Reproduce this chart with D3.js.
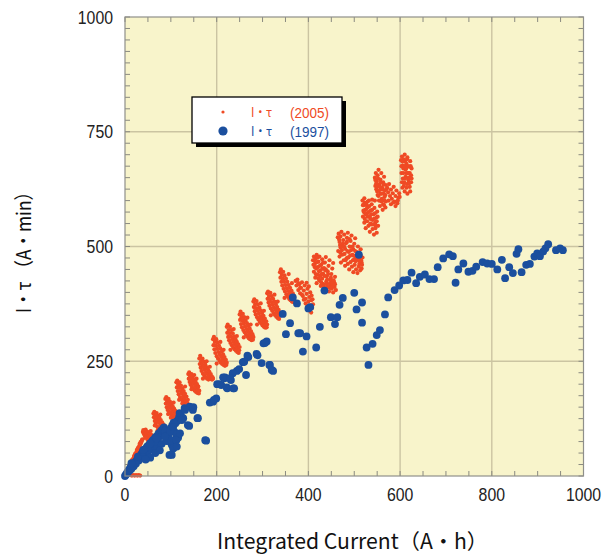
<!DOCTYPE html>
<html>
<head>
<meta charset="utf-8">
<script src="https://cdn.jsdelivr.net/npm/d3@7"></script>
<style>
  body { margin: 0; background: #fff; }
  svg { display: block; }
</style>
</head>
<body>
<div id="chart"></div>
<script>
// TICKS
const xTicks = [0, 200, 400, 600, 800, 1000];
const yTicks = [0, 250, 500, 750, 1000];

// SERIES LABELS
const seriesNames = ["I・τ", "I・τ"];
const seriesYears = ["(2005)", "(1997)"];

// I·tau (2005), one string per sawtooth cycle ("x,y" pairs)
const red2005 = [
  "0,0 1,2 2,4 3,5 4,8 5,9 6,12 7,13 8,16 9,18 10,20 11,22 12,24 13,26 14,28 15,30 16,33 17,34 18,37 19,39 20,41 21,43 22,45 23,47 24,49 25,52 26,54 27,56 28,58 29,60 30,62 31,64 32,67 33,69 34,71 35,73 36,75 37,78 38,80 12,2 15,1 18,2 21,1 24,2 27,1 30,2 33,1 14,31 20,44 26,57 32,70 10,23 16,36 22,48 28,61 34,74",
  "39,96 40,100 41,92 42,97 43,88 44,94 45,101 46,86 47,91 48,97 49,84 50,89 51,95 52,81 53,87 54,92 55,79 56,84 57,90 58,76 59,82 60,87 61,74 62,79 44,83 50,78 56,98",
  "62,136 63,128 64,140 65,120 66,132 67,114 68,126 69,137 70,108 71,121 72,131 73,104 74,116 75,127 76,100 77,111 78,122 79,97 80,107 81,117 82,94 83,103 84,112 85,92 86,99 87,107 88,95 65,110 71,99 77,134",
  "88,168 89,158 90,172 91,150 92,163 93,144 94,157 95,168 96,140 97,151 98,162 99,136 100,147 101,157 102,132 103,142 104,152 105,129 106,138 107,147 108,126 109,134 110,142 111,123 112,130 94,135 100,127 106,160",
  "112,204 113,193 114,208 115,185 116,199 117,178 118,192 119,204 120,172 121,185 122,197 123,167 124,180 125,191 126,162 127,174 128,185 129,158 130,168 131,179 132,155 133,163 134,173 135,152 136,159 137,166 138,152 118,166 125,158 131,195",
  "138,222 139,212 140,226 141,205 142,217 143,199 144,212 145,222 146,194 147,206 148,216 149,190 150,201 151,210 152,186 153,196 154,205 155,183 156,191 157,200 158,181 159,188 160,195 161,180 162,186 145,189 151,220 156,212",
  "162,256 163,244 164,262 165,236 166,250 167,229 168,243 169,256 170,223 171,237 172,249 173,219 174,231 175,243 176,215 177,226 178,237 179,212 180,222 181,232 182,210 183,218 184,227 186,214 187,222 188,211 189,217 190,210 191,215 192,212 170,212 178,250 185,238",
  "192,298 193,285 194,303 195,276 196,292 197,268 198,284 199,298 200,261 201,277 202,291 203,256 204,270 205,284 206,251 207,264 208,278 209,247 210,259 211,271 212,244 213,254 214,265 215,242 216,250 217,259 218,240 219,246 220,253 221,242 222,247 200,245 208,292 215,275",
  "222,325 223,312 224,330 225,303 226,318 227,296 228,311 229,325 230,290 231,304 232,318 233,285 234,298 235,311 236,280 237,292 238,304 239,276 240,287 241,298 242,273 243,282 244,292 245,270 246,278 247,287 248,268 249,274 250,281 230,275 237,320 244,305",
  "250,352 251,340 252,358 253,331 254,346 255,324 256,339 257,353 258,318 259,332 260,346 261,313 262,326 263,339 264,308 265,320 266,333 267,304 268,315 269,327 270,300 271,310 272,321 273,298 274,306 275,315 276,296 277,302 278,309 279,297 280,303 259,302 267,345 274,330",
  "280,380 281,368 282,385 283,359 284,374 285,352 286,366 287,381 288,346 289,360 290,374 291,341 292,354 293,367 294,336 295,348 296,361 297,332 298,343 299,355 300,328 301,338 302,349 303,325 304,334 305,343 306,323 307,330 308,337 309,324 310,330 288,330 296,376 303,360",
  "310,398 311,386 312,402 313,378 314,392 315,371 316,385 317,399 318,365 319,379 320,392 321,360 322,373 323,386 324,355 325,367 326,380 327,351 328,362 329,374 330,347 331,357 332,368 333,344 334,353 335,362 336,342 337,349 338,356 318,350 326,395 333,380",
  "338,444 339,432 340,450 341,423 342,438 343,415 344,430 345,445 346,408 347,423 348,437 349,402 350,416 351,430 352,396 353,409 354,423 355,391 356,403 357,416 358,386 359,398 360,410 361,383 362,393 363,404 364,380 365,388 366,398 367,379 368,386 369,392 370,381 348,388 357,440 364,420",
  "372,425 374,415 376,428 378,405 380,418 382,398 384,410 386,422 388,392 390,404 392,415 394,386 396,397 398,408 400,380 402,390 404,400 405,372 406,383 407,393 408,366 403,360 398,370 394,376 390,384 386,395 382,410 378,420 401,413 396,421 406,356 410,374 409,385",
  "410,470 412,478 414,462 416,474 418,482 420,455 422,467 424,478 426,448 428,460 430,472 432,441 434,453 436,465 438,477 440,435 442,446 444,458 446,470 448,428 450,440 452,452 454,464 456,422 458,434 412,445 415,432 418,420 421,438 424,426 427,414 430,430 433,418 436,406 439,424 442,412 445,402 448,416 451,408 454,400 457,412 460,405 414,455 426,436 438,450 450,426",
  "411,460 413,470 417,452 419,466 423,446 425,458 429,440 431,452 435,436 437,448 441,428 443,440 447,420 449,432 453,414 455,426 416,440 422,430 428,422 434,412 440,418 446,410 452,420 458,418 420,476 432,465",
  "464,520 466,528 468,510 470,522 472,532 474,500 476,514 478,526 480,495 482,507 484,519 486,530 488,488 490,500 492,512 494,524 496,482 498,494 500,506 502,518 504,476 506,488 508,500 510,470 512,482 514,494 516,465 518,476 465,490 468,478 471,465 474,482 477,470 480,458 483,474 486,462 489,450 492,466 495,456 498,444 501,460 504,450 507,442 510,456 513,448 516,452 470,498 486,476 500,472 511,462",
  "467,515 469,503 473,492 475,506 479,484 481,470 485,490 487,476 491,480 493,492 497,470 499,480 503,468 505,478 509,486 511,474 515,470 517,460 470,486 478,500 484,510 490,516 496,500 502,490 508,472 514,480",
  "518,600 520,590 522,605 524,580 526,595 528,572 530,586 532,600 534,565 536,578 538,592 540,558 542,570 544,584 546,552 548,563 550,576 519,565 522,552 525,540 528,555 531,545 534,532 537,548 540,538 543,526 546,540 549,530 552,545 520,578 527,590 535,550 545,600",
  "519,590 521,575 523,560 525,570 527,582 529,565 531,575 533,588 535,560 537,570 539,580 541,548 543,560 545,572 547,545 549,555 551,565 523,595 529,598 539,602",
  "545,650 547,660 549,642 551,655 553,667 555,634 557,646 559,660 561,628 563,640 565,652 567,622 569,634 548,625 551,612 554,600 557,615 560,604 563,592 566,608 569,598 552,635 558,625 564,616 546,632 550,620 556,588 562,580 568,585",
  "546,645 548,638 550,630 552,648 554,622 556,630 558,640 560,615 562,625 564,635 566,600 568,612 570,625 553,610 559,598 565,590",
  "572,628 574,618 576,636 578,610 580,624 582,604 584,616 586,630 588,598 590,610 592,622 594,594 596,606 598,616 575,600 580,592 585,596 590,588 595,600 599,608",
  "602,688 604,696 606,676 608,690 610,700 612,668 614,680 616,694 618,660 620,674 622,686 624,655 603,660 606,648 609,640 612,652 615,636 618,645 621,630 624,640 605,628 610,620 616,615 622,620 607,670 613,660 619,650 625,670 617,675 611,685",
  "603,675 605,685 607,660 609,675 611,648 613,670 615,690 617,660 619,640 621,660 623,675 625,648 604,640 608,632 614,628 620,638"
];

// I·tau (1997): large markers
const blueStart = "0,0 2,3 4,5 5,8 7,9 8,13 10,12 11,17 13,19 14,16 16,22 18,25 19,21 21,28 23,31 24,27 26,35 28,37 30,34 31,41 33,44 35,40 36,48 38,50 40,47 41,55 43,58 45,54 47,62 49,65 51,60 53,68 55,71 57,66 59,75 61,78 63,72 65,82 67,85 69,79 71,88 73,92 75,86 77,95 79,99 81,93 83,103 85,106 88,100 90,92 93,86 96,80 99,74 102,68 106,62 95,98 100,104 103,110 108,96 112,90 116,84 110,115 114,120 118,128 122,132 106,116 60,58 70,64 80,70 90,76 66,50 76,56 50,46 55,40 45,36";
const blueLow = "14,28 28,42 39,53 50,63 65,75 72,84 87,97 94,89 101,78 105,60 112,78 97,46 119,137 130,148 141,151 148,144 137,111 127,126 159,126 175,78 192,162 199,169 210,198 217,213 98,97 87,86 113,64 102,46 120,93 105,107 177,77 124,122 140,109 131,144 149,150 158,126 185,160 194,166 69,82 55,71 40,57";
const blueMid = "201,200 218,215 231,209 223,191 238,191 244,229 257,248 267,262 287,266 302,289 309,293 298,246 315,242 323,229 344,353 360,333 351,309 378,311 388,271 375,376 400,365 366,389 289,263 269,259 316,242 320,231 260,249 249,233 264,220 235,224 229,213 214,215 206,200 222,193 236,191 305,290";
const blueHigh = "435,404 404,368 382,311 396,304 417,280 425,325 449,346 463,346 458,331 468,373 475,388 500,399 517,378 505,363 517,334 510,482 527,280 531,242 540,288 549,307 556,318 567,352 574,389 588,405 598,415 607,426 616,427 625,443 635,420 643,434 654,439 664,429 674,429 682,455 694,474 707,483 715,479 721,421 727,450 738,463 749,445 758,447 766,456 780,466 790,463 800,462 812,450 822,471 829,431 838,455 846,442 854,484 858,494 865,444 875,460 883,462 893,478 899,485 905,479 912,489 917,496 923,505 940,492 949,496 955,492";

const parsePairs = s => s.trim().split(/\s+/).map(p => p.split(",").map(Number));
const redData = red2005.flatMap(parsePairs);
const blueData = [blueStart, blueLow, blueMid, blueHigh].flatMap(parsePairs);

// SIZES
const svgWidth = 611;
const svgHeight = 555;
const plot = { left: 125, right: 583.5, top: 17, bottom: 476 };

const RED = "#ef4a24";
const BLUE = "#1b4f9e";

const xScale = d3.scaleLinear().domain([0, 1000]).range([plot.left, plot.right]);
const yScale = d3.scaleLinear().domain([0, 1000]).range([plot.bottom, plot.top]);

const svg = d3.select("#chart")
  .append("svg")
  .attr("width", svgWidth)
  .attr("height", svgHeight);

// PLOT BACKGROUND
svg.append("rect")
  .attr("x", plot.left)
  .attr("y", plot.top)
  .attr("width", plot.right - plot.left)
  .attr("height", plot.bottom - plot.top)
  .attr("fill", "#f8f4cb");

// GRID LINES
const grid = svg.append("g").attr("stroke", "#cbc4a2").attr("stroke-width", 1.4);
grid.selectAll(".gx")
  .data(xTicks.slice(1, -1))
  .enter()
  .append("line")
  .attr("x1", d => xScale(d)).attr("x2", d => xScale(d))
  .attr("y1", plot.top).attr("y2", plot.bottom);
grid.selectAll(".gy")
  .data(yTicks.slice(1, -1))
  .enter()
  .append("line")
  .attr("y1", d => yScale(d)).attr("y2", d => yScale(d))
  .attr("x1", plot.left).attr("x2", plot.right);

// INNER TICKS ON ALL SIDES
const minorX = d3.range(0, 1001, 50);
const minorY = d3.range(0, 1001, 25);
const tickLen = 5;
const ticks = svg.append("g").attr("stroke", "#8a8a80").attr("stroke-width", 1);
ticks.selectAll(".tb").data(minorX).enter().append("line")
  .attr("x1", d => xScale(d)).attr("x2", d => xScale(d))
  .attr("y1", plot.bottom).attr("y2", plot.bottom - tickLen);
ticks.selectAll(".tt").data(minorX).enter().append("line")
  .attr("x1", d => xScale(d)).attr("x2", d => xScale(d))
  .attr("y1", plot.top).attr("y2", plot.top + tickLen);
ticks.selectAll(".tl").data(minorY).enter().append("line")
  .attr("y1", d => yScale(d)).attr("y2", d => yScale(d))
  .attr("x1", plot.left).attr("x2", plot.left + tickLen);
ticks.selectAll(".tr").data(minorY).enter().append("line")
  .attr("y1", d => yScale(d)).attr("y2", d => yScale(d))
  .attr("x1", plot.right).attr("x2", plot.right - tickLen);

// POINTS (red first, blue on top)
svg.append("g")
  .selectAll("circle")
  .data(redData)
  .enter()
  .append("circle")
  .attr("cx", d => xScale(d[0]))
  .attr("cy", d => yScale(d[1]))
  .attr("r", 2.1)
  .attr("fill", RED);

svg.append("g")
  .selectAll("circle")
  .data(blueData)
  .enter()
  .append("circle")
  .attr("cx", d => xScale(d[0]))
  .attr("cy", d => yScale(d[1]))
  .attr("r", 3.9)
  .attr("fill", BLUE);

// FRAME
svg.append("rect")
  .attr("x", plot.left)
  .attr("y", plot.top)
  .attr("width", plot.right - plot.left)
  .attr("height", plot.bottom - plot.top)
  .attr("fill", "none")
  .attr("stroke", "#8f8f8a")
  .attr("stroke-width", 1.2);

// TICK LABELS
const labelFont = "'Liberation Sans', Arial, sans-serif";
svg.append("g")
  .selectAll("text")
  .data(xTicks)
  .enter()
  .append("text")
  .attr("transform", d => `translate(${xScale(d)},${plot.bottom + 25}) scale(0.88,1)`)
  .attr("text-anchor", "middle")
  .attr("font-family", labelFont)
  .attr("font-size", 18)
  .attr("fill", "#222")
  .text(d => d);

svg.append("g")
  .selectAll("text")
  .data(yTicks)
  .enter()
  .append("text")
  .attr("transform", d => `translate(${plot.left - 12},${yScale(d) + 6.5}) scale(0.88,1)`)
  .attr("text-anchor", "end")
  .attr("font-family", labelFont)
  .attr("font-size", 18)
  .attr("fill", "#222")
  .text(d => d);

// AXIS TITLES
const titleFont = "'Noto Sans CJK JP', 'Noto Sans', sans-serif";
svg.append("text")
  .attr("x", 217)
  .attr("y", 549)
  .attr("font-family", titleFont)
  .attr("font-size", 21)
  .attr("fill", "#111")
  .attr("textLength", 271)
  .attr("lengthAdjust", "spacingAndGlyphs")
  .text("Integrated Current（A・h）");

svg.append("text")
  .attr("transform", "translate(31,313) rotate(-90)")
  .attr("font-family", titleFont)
  .attr("font-size", 20)
  .attr("fill", "#111")
  .attr("textLength", 130)
  .attr("lengthAdjust", "spacingAndGlyphs")
  .text("I・τ （A・min）");

// LEGEND
const legend = svg.append("g");
legend.append("rect")
  .attr("x", 196).attr("y", 101)
  .attr("width", 150).attr("height", 46)
  .attr("fill", "#000");
legend.append("rect")
  .attr("x", 192).attr("y", 97)
  .attr("width", 150).attr("height", 46)
  .attr("fill", "#fff")
  .attr("stroke", "#000")
  .attr("stroke-width", 1.3);

const legendRows = [
  { color: RED, r: 1.6, y: 112 },
  { color: BLUE, r: 4.6, y: 131 }
];
legendRows.forEach((row, i) => {
  legend.append("circle")
    .attr("cx", 223).attr("cy", row.y)
    .attr("r", row.r)
    .attr("fill", row.color);
  legend.append("text")
    .attr("x", 251).attr("y", row.y + 5)
    .attr("font-family", titleFont)
    .attr("font-size", 12.5)
    .attr("fill", row.color)
    .attr("textLength", 21)
    .attr("lengthAdjust", "spacingAndGlyphs")
    .text(seriesNames[i]);
  legend.append("text")
    .attr("x", 290).attr("y", row.y + 5.5)
    .attr("font-family", labelFont)
    .attr("font-size", 15)
    .attr("fill", row.color)
    .attr("textLength", 39)
    .attr("lengthAdjust", "spacingAndGlyphs")
    .text(seriesYears[i]);
});
</script>
</body>
</html>
